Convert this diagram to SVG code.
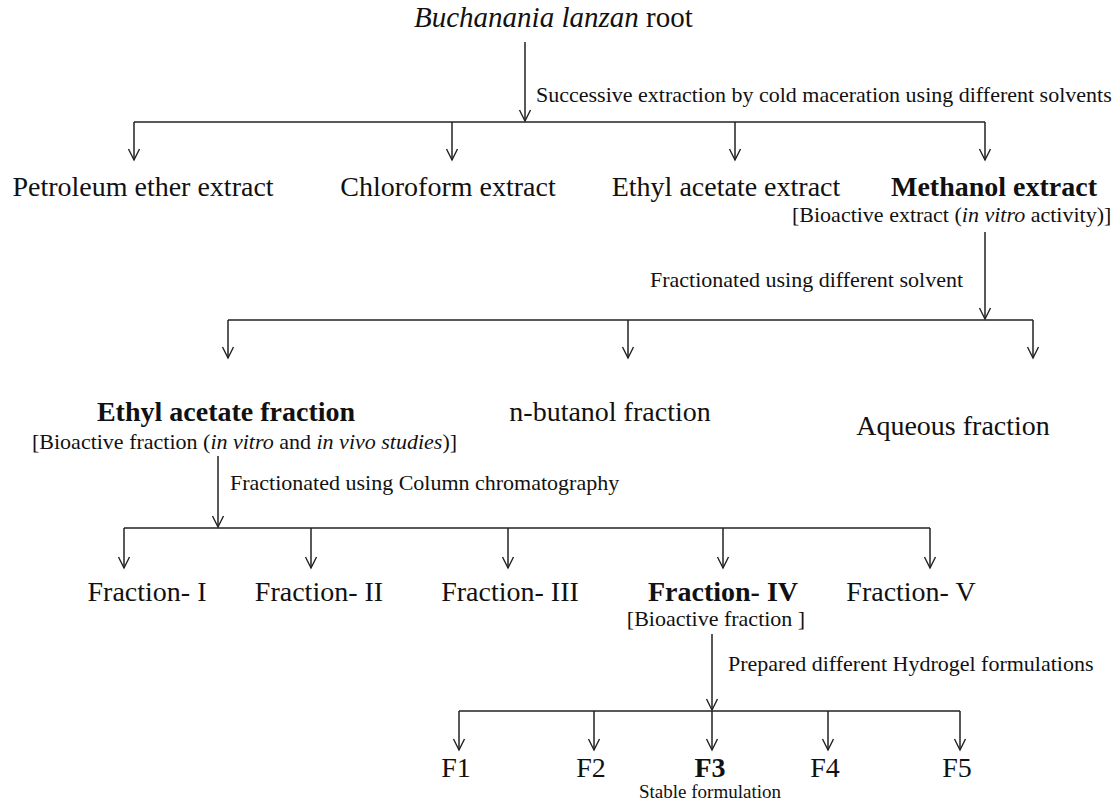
<svg xmlns="http://www.w3.org/2000/svg" width="1118" height="800" viewBox="0 0 1118 800">
<defs>
<marker id="arr" markerUnits="userSpaceOnUse" markerWidth="14" markerHeight="14" refX="0" refY="0" viewBox="-10 -7 12 14" orient="auto" overflow="visible">
<path d="M-11,-5.5 L0,0 L-11,5.5" fill="none" stroke="#222" stroke-width="1.4"/>
</marker>
<style>
text{font-family:"Liberation Serif","Times New Roman",serif;fill:#111}
.m{font-size:28px}
.s{font-size:22px}
.b{font-weight:bold}
.mid{text-anchor:middle}
.c path{stroke:#222;stroke-width:1.5;fill:none}
.a{marker-end:url(#arr)}
</style>
</defs>
<rect width="1118" height="800" fill="#fff"/>
<g class="c" id="connectors">
<path class="a" d="M525,42 V121"/>
<path d="M134,122 H985"/>
<path class="a" d="M134,122 V160"/>
<path class="a" d="M452,122 V160"/>
<path class="a" d="M735,122 V160"/>
<path class="a" d="M985,122 V160"/>
<path class="a" d="M985,232 V319"/>
<path d="M228,320 H1033"/>
<path class="a" d="M228,320 V358"/>
<path class="a" d="M628,320 V358"/>
<path class="a" d="M1033,320 V358"/>
<path class="a" d="M218,456 V527"/>
<path d="M124,528 H930"/>
<path class="a" d="M124,528 V568"/>
<path class="a" d="M311,528 V568"/>
<path class="a" d="M508,528 V568"/>
<path class="a" d="M723,528 V568"/>
<path class="a" d="M930,528 V568"/>
<path class="a" d="M712,634 V710"/>
<path d="M459,711 H960"/>
<path class="a" d="M459,711 V750"/>
<path class="a" d="M594,711 V750"/>
<path class="a" d="M712,711 V750"/>
<path class="a" d="M828,711 V750"/>
<path class="a" d="M960,711 V750"/>
</g>
<g id="edge-labels">
<text class="s" x="536" y="102">Successive extraction by cold maceration using different solvents</text>
<text class="s" x="650" y="287">Fractionated using different solvent</text>
<text class="s" x="230" y="490">Fractionated using Column chromatography</text>
<text class="s" x="728" y="671">Prepared different Hydrogel formulations</text>
</g>
<g id="root"><text x="414" y="27" font-size="29"><tspan font-style="italic">Buchanania lanzan</tspan> root</text></g>
<g id="petroleum"><text class="m mid" x="143" y="196">Petroleum ether extract</text></g>
<g id="chloroform"><text class="m mid" x="448" y="196">Chloroform extract</text></g>
<g id="ethyl-extract"><text class="m mid" x="726" y="196">Ethyl acetate extract</text></g>
<g id="methanol"><text class="m b mid" x="994" y="196">Methanol extract</text>
<text class="s" x="792" y="222">[Bioactive extract (<tspan font-style="italic">in vitro</tspan> activity)]</text></g>
<g id="ethyl-fraction"><text class="m b mid" x="226" y="421">Ethyl acetate fraction</text>
<text class="s" x="32" y="449">[Bioactive fraction (<tspan font-style="italic">in vitro</tspan> and <tspan font-style="italic">in vivo studies</tspan>)]</text></g>
<g id="butanol"><text class="m mid" x="610" y="421">n-butanol fraction</text></g>
<g id="aqueous"><text class="m mid" x="953" y="435">Aqueous fraction</text></g>
<g id="f-I"><text class="m mid" x="147" y="601">Fraction- I</text></g>
<g id="f-II"><text class="m mid" x="319" y="601">Fraction- II</text></g>
<g id="f-III"><text class="m mid" x="510" y="601">Fraction- III</text></g>
<g id="f-IV"><text class="m b mid" x="723" y="601">Fraction- IV</text>
<text class="s mid" x="716" y="626">[Bioactive fraction ]</text></g>
<g id="f-V"><text class="m mid" x="911" y="601">Fraction- V</text></g>
<g id="F1"><text class="m mid" x="456" y="777">F1</text></g>
<g id="F2"><text class="m mid" x="591" y="777">F2</text></g>
<g id="F3"><text class="m b mid" x="710" y="777">F3</text>
<text class="mid" x="710" y="798" font-size="19">Stable formulation</text></g>
<g id="F4"><text class="m mid" x="825" y="777">F4</text></g>
<g id="F5"><text class="m mid" x="957" y="777">F5</text></g>
</svg>
